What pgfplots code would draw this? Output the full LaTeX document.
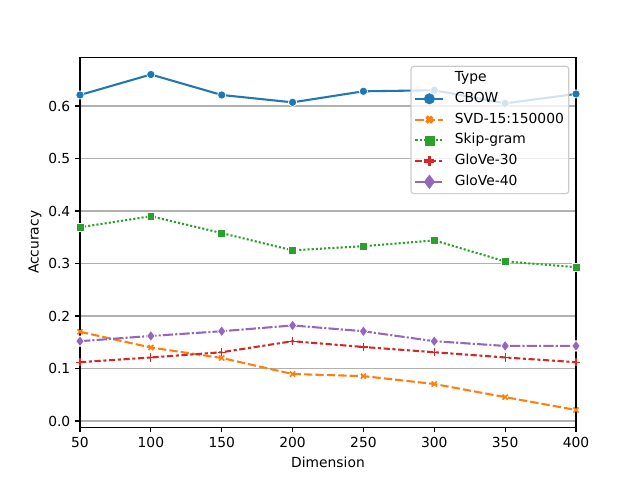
\documentclass[border=0pt]{standalone}
\usepackage{fontspec}
\setmainfont{DejaVu Sans}
\usepackage{pgfplots}
\pgfplotsset{compat=1.18}
\definecolor{c1}{HTML}{1F77B4}
\definecolor{c2}{HTML}{FF7F0E}
\definecolor{c3}{HTML}{2CA02C}
\definecolor{c4}{HTML}{D62728}
\definecolor{c5}{HTML}{9467BD}
\definecolor{gridc}{HTML}{B0B0B0}
\definecolor{legc}{HTML}{CCCCCC}
\begin{document}
\begin{tikzpicture}
\useasboundingbox (0,0) rectangle (6.4in,4.8in);
\begin{axis}[
  at={(0.8in,0.528in)}, anchor=south west,
  width=4.96in, height=3.696in, scale only axis,
  xmin=50, xmax=400, ymin=-0.0118, ymax=0.6922,
  xtick={50,100,150,200,250,300,350,400},
  ytick={0,0.1,0.2,0.3,0.4,0.5,0.6},
  yticklabel style={/pgf/number format/.cd, fixed, fixed zerofill, precision=1},
  /pgf/number format/assume math mode=true,
  tick align=outside, major tick length=3.5pt,
  tick style={black, line width=0.8pt},
  xtick pos=bottom, ytick pos=left,
  axis line style={black, line width=0.8pt},
  ymajorgrids, grid style={gridc, line width=0.8pt},
  ticklabel style={font=\fontsize{10}{12}\selectfont},
  label style={font=\fontsize{10}{12}\selectfont},
  xlabel={Dimension}, ylabel={Accuracy},
  xlabel style={yshift=0pt},
  ylabel style={yshift=-2pt},
  legend image code/.code={\path (-0.02in,0in) (0.35in,0in); \draw[fill opacity=1, mark repeat=2,mark phase=2] plot coordinates {(0in,0in)(0.14in,0in)(0.28in,0in)};},
  legend cell align=left,
  legend style={at={(0.9865,0.978)}, anchor=north east,
    draw=legc, line width=0.8pt, rounded corners=2pt, fill=white, fill opacity=0.8, text opacity=1,
    font=\fontsize{10}{12}\selectfont,
    nodes={text height=7.5pt, text depth=2.5pt, inner sep=2.5pt},
    inner xsep=1pt, inner ysep=1pt},
]
% legend
\addlegendimage{empty legend}\addlegendentry{Type}
\addlegendimage{c1, line width=1.5pt, mark=*, mark size=3.8pt, mark options={solid, fill=c1, draw=c1, line width=0.3pt, fill opacity=1}}\addlegendentry{CBOW}
\addlegendimage{c2, line width=1.5pt, dash pattern=on 6pt off 2.25pt, mark=x, mark size=3pt, mark options={solid, line width=2.5pt}}\addlegendentry{SVD-15:150000}
\addlegendimage{c3, line width=1.5pt, dash pattern=on 1.5pt off 1.5pt, mark=square*, mark size=3.3pt, mark options={solid, fill=c3, draw=c3, line width=0.3pt, fill opacity=1}}\addlegendentry{Skip-gram}
\addlegendimage{c4, line width=1.5pt, dash pattern=on 4.5pt off 1.875pt on 2.25pt off 1.875pt, mark=+, mark size=3.6pt, mark options={solid, line width=2.5pt}}\addlegendentry{GloVe-30}
\addlegendimage{c5, line width=1.5pt, dash pattern=on 7.5pt off 1.5pt on 1.5pt off 1.5pt, mark=diamond*, mark size=5pt, mark options={solid, fill=c5, draw=c5, line width=0.3pt, fill opacity=1}}\addlegendentry{GloVe-40}
% data
\addplot[forget plot, c1, line width=1.5pt, mark=*, mark size=3pt, mark options={solid, fill=c1, draw=white, line width=0.5pt}]
  coordinates {(50,0.621)(100,0.660)(150,0.621)(200,0.607)(250,0.628)(300,0.630)(350,0.605)(400,0.623)};
\addplot[forget plot, c2, line width=1.5pt, dash pattern=on 6pt off 2.25pt, mark=x, mark size=2.6pt, mark options={solid, line width=1.2pt}]
  coordinates {(50,0.170)(100,0.140)(150,0.120)(200,0.0895)(250,0.0855)(300,0.0705)(350,0.0455)(400,0.021)};
\addplot[forget plot, c3, line width=1.5pt, dash pattern=on 1.5pt off 1.5pt, mark=square*, mark size=2.8pt, mark options={solid, fill=c3, draw=white, line width=0.5pt}]
  coordinates {(50,0.369)(100,0.390)(150,0.358)(200,0.325)(250,0.333)(300,0.344)(350,0.304)(400,0.293)};
\addplot[forget plot, c4, line width=1.5pt, dash pattern=on 4.5pt off 1.875pt on 2.25pt off 1.875pt, mark=+, mark size=3pt, mark options={solid, line width=0.8pt}]
  coordinates {(50,0.112)(100,0.121)(150,0.131)(200,0.152)(250,0.141)(300,0.131)(350,0.121)(400,0.112)};
\addplot[forget plot, c5, line width=1.5pt, dash pattern=on 7.5pt off 1.5pt on 1.5pt off 1.5pt, mark=diamond*, mark size=4pt, mark options={solid, fill=c5, draw=white, line width=0.5pt}]
  coordinates {(50,0.152)(100,0.162)(150,0.171)(200,0.182)(250,0.171)(300,0.152)(350,0.143)(400,0.143)};
\end{axis}
\end{tikzpicture}
\end{document}
